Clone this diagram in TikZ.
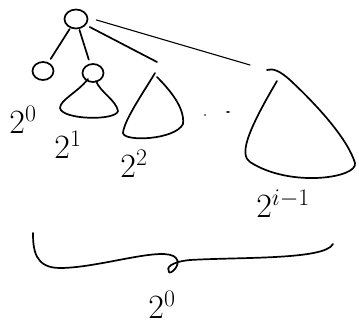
\RequirePackage{fix-cm}
\documentclass[tikz,border=0pt]{standalone}
\usetikzlibrary{shapes.geometric}
\begin{document}
\begin{tikzpicture}[x=1pt,y=-1pt,line cap=round,line join=round,
  pen/.style={line width=1.7pt},
  thin pen/.style={line width=1.1pt},
  circ/.style={ellipse,draw,line width=1.7pt,inner sep=0pt},
  lbl/.style={font=\fontsize{34}{38}\selectfont,inner sep=0pt}]
\useasboundingbox (0,0) rectangle (359,329);
% circles
\node[circ,minimum width=23pt,minimum height=19pt] (root) at (76,19) {};
\node[circ,minimum width=21pt,minimum height=18pt] (c0) at (43,71) {};
\node[circ,minimum width=21pt,minimum height=18pt] (c1) at (93,73) {};
% coordinates
\coordinate (t2) at (157,62);
\coordinate (e3) at (250,65);
% connectors
\draw[pen,shorten <=1pt,shorten >=4pt] (root) -- (c0);
\draw[pen,shorten <=1pt,shorten >=4pt] (root) -- (c1);
\draw[pen] (root.-25) ++(3,3) -- (t2);
\draw[thin pen] (root.5) ++(8,2) -- (e3);
% triangle under c1
\draw[pen] (88,79) .. controls (78,92) and (60,100) .. (60,108)
  .. controls (62,120) and (116,121) .. (118,111)
  .. controls (116,100) and (100,92) .. (96,81);
% triangle 2^2
\draw[pen] (155,73) .. controls (145,90) and (124,120) .. (123,133)
  .. controls (124,142) and (175,140) .. (183,124)
  .. controls (185,108) and (170,90) .. (157,77);
% big triangle
\draw[pen] (267,70) .. controls (273,68) and (280,71) .. (290,80)
  .. controls (320,108) and (348,140) .. (355,163)
  .. controls (358,178) and (290,188) .. (250,162)
  .. controls (240,155) and (245,135) .. (277,81);
% dots
\fill (205,115) circle (0.9pt);
\fill (228,112) ellipse (2pt and 0.8pt);
% brace
\draw[pen] (33,233) .. controls (33,250) and (35,268) .. (60,268)
  .. controls (100,268) and (165,245) .. (176,258)
  .. controls (182,265) and (170,275) .. (169,272)
  .. controls (166,268) and (170,262) .. (190,260)
  .. controls (240,257) and (325,260) .. (333,244);
% labels
\node[lbl] (l0) at (23,120) {$2^0$};
\node[lbl] (l1) at (68,145) {$2^1$};
\node[lbl] (l2) at (134,164) {$2^2$};
\node[lbl] (l3) at (283,204) {$2^{i-1}$};
\node[lbl] (l4) at (162,305) {$2^0$};
\end{tikzpicture}
\end{document}
